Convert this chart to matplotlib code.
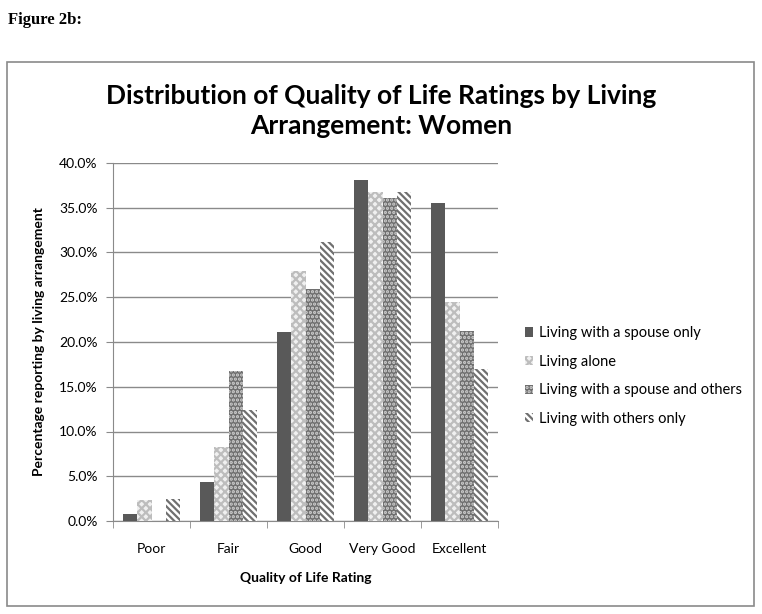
import matplotlib
matplotlib.use("Agg")
import matplotlib.pyplot as plt
import matplotlib.patches as mpatches
import numpy as np

plt.rcParams["font.family"] = ["Lato", "DejaVu Sans"]
plt.rcParams["hatch.linewidth"] = 1.6

# data
ratings = ["Poor", "Fair", "Good", "Very Good", "Excellent"]
series = [
    "Living with a spouse only",
    "Living alone",
    "Living with a spouse and others",
    "Living with others only",
]
spouse_only = [0.8, 4.4, 21.1, 38.1, 35.5]
alone = [2.3, 8.3, 27.9, 36.8, 24.5]
spouse_others = [0.0, 16.8, 25.9, 36.1, 21.2]
others_only = [2.5, 12.4, 31.2, 36.8, 17.0]
values = [spouse_only, alone, spouse_others, others_only]

# bar styles: facecolor, hatch, hatch colour
styles = [
    ("#595959", None, "#595959"),
    ("#f0f0f0", "xxxx", "#bdbdbd"),
    ("#6f6f6f", "....", "#d0d0d0"),
    ("#ffffff", "\\\\\\\\\\", "#707070"),
]

fig = plt.figure(figsize=(7.62, 6.14), dpi=100)
fig.patch.set_facecolor("white")

# outer chart border
fig.add_artist(mpatches.Rectangle((7 / 762, 1 - 606 / 614), 747 / 762, 544 / 614,
                                  transform=fig.transFigure, fill=False,
                                  edgecolor="#8a8a8a", lw=1.2))

fig.text(8 / 762, 1 - 20 / 614, "Figure 2b:", family="Liberation Serif",
         fontsize=12, fontweight="bold", va="center", ha="left")

ax = fig.add_axes([113 / 762, 93 / 614, 385 / 762, 358 / 614])

x = np.arange(len(ratings))
w = 0.183
for i, (vals, (fc, hatch, hc)) in enumerate(zip(values, styles)):
    ax.bar(x + (i - 1.5) * w, np.array(vals) / 100, width=w, color=fc,
           hatch=hatch, edgecolor=hc, linewidth=0, zorder=3, label=series[i])

ax.set_xlim(-0.5, len(ratings) - 0.5)
ax.set_ylim(0, 0.40)
ax.set_yticks(np.arange(0, 0.401, 0.05))
ax.set_yticklabels([f"{v * 100:.1f}%" for v in np.arange(0, 0.401, 0.05)], fontsize=10)
ax.set_xticks(x)
ax.set_xticklabels(ratings, fontsize=10)
ax.set_xticks(np.arange(-0.5, len(ratings)), minor=True)
ax.tick_params(axis="x", which="major", length=0, pad=16)
ax.tick_params(axis="x", which="minor", length=5, color="#8a8a8a")
ax.tick_params(axis="y", length=5, color="#8a8a8a", pad=6)
ax.yaxis.grid(True, color="#8a8a8a", lw=1, zorder=0)
ax.set_axisbelow(True)
for s in ["top", "right"]:
    ax.spines[s].set_visible(False)
for s in ["left", "bottom"]:
    ax.spines[s].set_color("#8a8a8a")

ax.set_xlabel("Quality of Life Rating", fontsize=10, fontweight="bold", labelpad=12)
ax.set_ylabel("Percentage reporting by living arrangement", fontsize=10,
              fontweight="bold", labelpad=10)

fig.text(381 / 762, 1 - 111 / 614,
         "Distribution of Quality of Life Ratings by Living\nArrangement: Women",
         ha="center", va="center", fontsize=19, fontweight="bold", linespacing=1.35)

ax.legend(loc="center left", bbox_to_anchor=(1.035, 0.405), frameon=False,
          fontsize=10.5, handlelength=0.6, handleheight=0.6, handletextpad=0.4,
          labelspacing=1.0)

plt.savefig("out.png", dpi=100, facecolor="white")
